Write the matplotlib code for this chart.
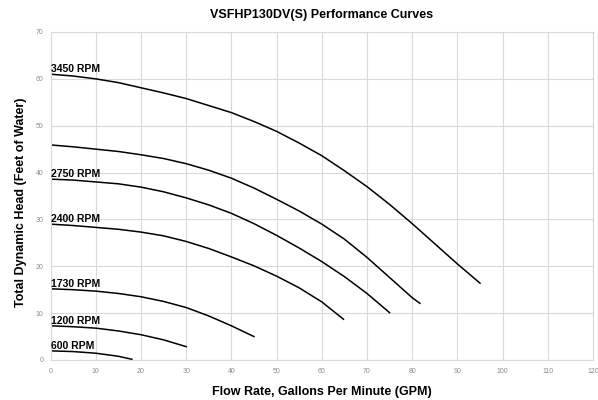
import matplotlib.pyplot as plt

plt.rcParams['font.family'] = ['Liberation Sans', 'DejaVu Sans']

title = 'VSFHP130DV(S) Performance Curves'
x_label = 'Flow Rate, Gallons Per Minute (GPM)'
y_label = 'Total Dynamic Head (Feet of Water)'

# flow (GPM) and head (ft)
gpm_3450 = [0, 5, 10, 15, 20, 25, 30, 35, 40, 45, 50, 55, 60, 65, 70, 75, 80, 85, 90, 95]
head_3450 = [61.0, 60.6, 60.0, 59.2, 58.1, 57.0, 55.8, 54.3, 52.8, 50.9, 48.8, 46.3,
             43.6, 40.4, 37.0, 33.2, 29.1, 24.8, 20.5, 16.4]

gpm_3110 = [0, 5, 10, 15, 20, 25, 30, 35, 40, 45, 50, 55, 60, 65, 70, 75, 80, 81.7]
head_3110 = [45.9, 45.5, 45.0, 44.5, 43.8, 43.0, 41.9, 40.5, 38.8, 36.7, 34.3, 31.8,
             29.0, 25.8, 21.9, 17.6, 13.3, 12.1]

gpm_2750 = [0, 5, 10, 15, 20, 25, 30, 35, 40, 45, 50, 55, 60, 65, 70, 75]
head_2750 = [38.6, 38.4, 38.0, 37.6, 36.9, 35.9, 34.6, 33.1, 31.3, 29.1, 26.6, 23.9,
             21.0, 17.8, 14.2, 10.1]

gpm_2400 = [0, 5, 10, 15, 20, 25, 30, 35, 40, 45, 50, 55, 60, 64.8]
head_2400 = [29.0, 28.7, 28.3, 27.9, 27.3, 26.5, 25.3, 23.8, 22.0, 20.1, 17.9, 15.4, 12.4, 8.7]

gpm_1730 = [0, 5, 10, 15, 20, 25, 30, 35, 40, 45]
head_1730 = [15.2, 15.0, 14.7, 14.2, 13.5, 12.5, 11.2, 9.4, 7.3, 5.0]

gpm_1200 = [0, 5, 10, 15, 20, 25, 30]
head_1200 = [7.3, 7.1, 6.8, 6.2, 5.4, 4.3, 2.85]

gpm_600 = [0, 5, 10, 15, 18]
head_600 = [1.95, 1.8, 1.45, 0.8, 0.15]

curves = [
    ('3450 RPM', gpm_3450, head_3450),
    ('', gpm_3110, head_3110),  # no label on the chart
    ('2750 RPM', gpm_2750, head_2750),
    ('2400 RPM', gpm_2400, head_2400),
    ('1730 RPM', gpm_1730, head_1730),
    ('1200 RPM', gpm_1200, head_1200),
    ('600 RPM', gpm_600, head_600),
]

fig = plt.figure(figsize=(5.98, 4.0), dpi=100)
ax = fig.add_axes([0.0845, 0.1, 0.9072, 0.82])

grid_col = '#d9d9d9'
for name, xs, ys in curves:
    ax.plot(xs, ys, color='black', lw=1.1, solid_joinstyle='round')
    if name:
        ax.annotate(name, (xs[0], ys[0]), xytext=(0, 1.6), textcoords='offset points',
                    ha='left', va='baseline', fontsize=7.5, fontweight='bold')

ax.set_xlim(0, 120)
ax.set_ylim(0, 70)
ax.set_xticks(range(0, 121, 10))
ax.set_yticks(range(0, 71, 10))
ax.grid(True, color=grid_col, lw=0.8)
ax.set_axisbelow(True)
for s in ax.spines.values():
    s.set_color(grid_col)
    s.set_linewidth(0.8)
ax.tick_params(length=0, labelsize=5, labelcolor='#8c8c8c')
ax.tick_params(axis='x', pad=6)
ax.tick_params(axis='y', pad=5)

ax.set_title(title, fontsize=9, fontweight='bold', pad=10)
ax.set_xlabel(x_label, fontsize=9, fontweight='bold')
ax.set_ylabel(y_label, fontsize=9, fontweight='bold')
ax.xaxis.set_label_coords(0.5, -0.097)
ax.xaxis.label.set_va('center')
ax.yaxis.set_label_coords(-0.055, 0.48)
ax.yaxis.label.set_va('center')

fig.savefig('out.png', dpi=100)
